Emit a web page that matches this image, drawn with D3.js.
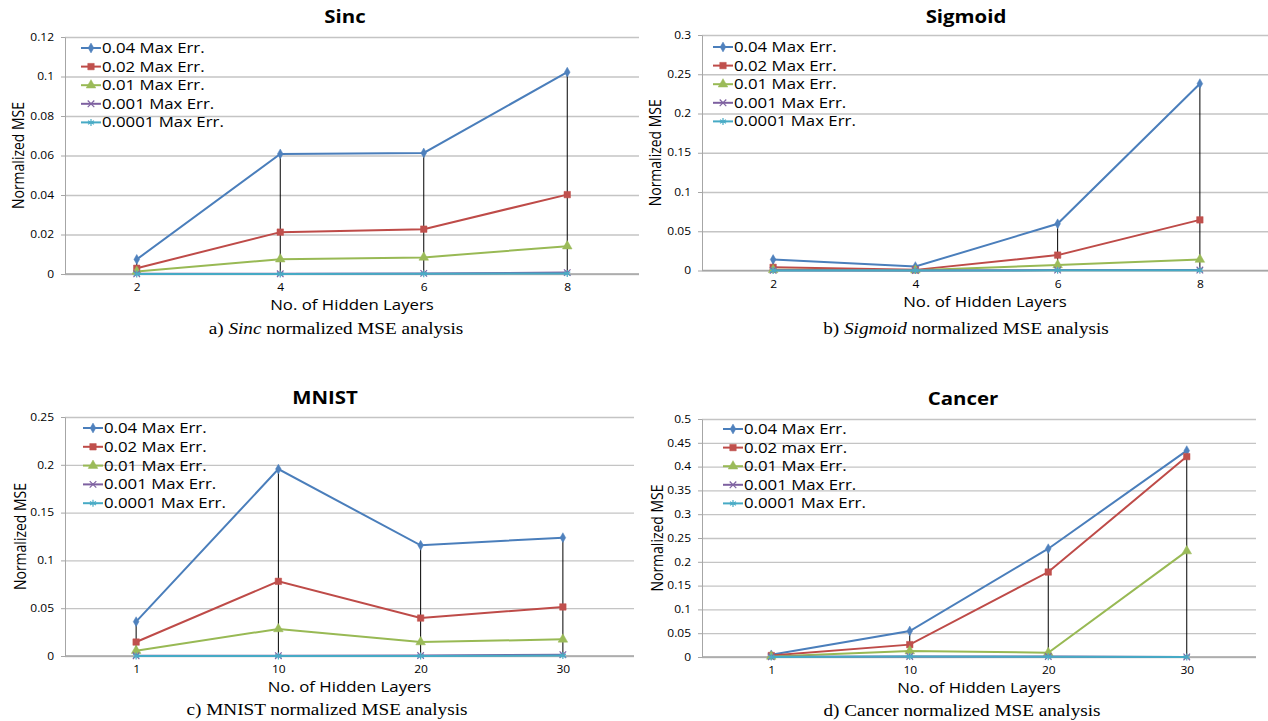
<!DOCTYPE html>
<html>
<head>
<meta charset="utf-8">
<script src="https://cdn.jsdelivr.net/npm/d3@7"></script>
<style>
  body { margin: 0; background: #fff; }
  text { font-family: "Open Sans", sans-serif; fill: #000; }
  .cap { font-family: "Liberation Serif", "Times New Roman", serif; }
</style>
</head>
<body>
<svg id="chart" width="1268" height="721"></svg>
<script>
// legend labels (cancer chart has the lowercase "max")
var seriesNames = ["0.04 Max Err.", "0.02 Max Err.", "0.01 Max Err.", "0.001 Max Err.", "0.0001 Max Err."];
var cancerNames = ["0.04 Max Err.", "0.02 max Err.", "0.01 Max Err.", "0.001 Max Err.", "0.0001 Max Err."];

// Sinc
var sincLayers = ["2", "4", "6", "8"];
var sinc004 = [0.0074, 0.0608, 0.0613, 0.1022];
var sinc002 = [0.0029, 0.0212, 0.0227, 0.0402];
var sinc001 = [0.0013, 0.0075, 0.0084, 0.0141];
var sinc0001 = [0.0001, 0.0001, 0.0003, 0.0007];
var sinc00001 = [0, 0, 0.0001, 0.0003];
var sincTicks = [0, 0.02, 0.04, 0.06, 0.08, 0.1, 0.12];

// Sigmoid
var sigLayers = ["2", "4", "6", "8"];
var sig004 = [0.014, 0.005, 0.0595, 0.238];
var sig002 = [0.004, 0.0008, 0.0196, 0.0645];
var sig001 = [0.0008, 0.0004, 0.0071, 0.014];
var sig0001 = [0.0003, 0.0001, 0.0005, 0.0006];
var sig00001 = [0.0001, 0, 0.0002, 0.0002];
var sigTicks = [0, 0.05, 0.1, 0.15, 0.2, 0.25, 0.3];

// MNIST
var mnistLayers = ["1", "10", "20", "30"];
var mnist004 = [0.0359, 0.1955, 0.1158, 0.1238];
var mnist002 = [0.0146, 0.0781, 0.0397, 0.0513];
var mnist001 = [0.0056, 0.0283, 0.0146, 0.0174];
var mnist0001 = [0.0002, 0.0003, 0.0005, 0.0014];
var mnist00001 = [0, 0.0001, 0.0001, 0.0004];
var mnistTicks = [0, 0.05, 0.1, 0.15, 0.2, 0.25];

// Cancer
var cancerLayers = ["1", "10", "20", "30"];
var cancer004 = [0.0045, 0.0546, 0.2275, 0.4335];
var cancer002 = [0.003, 0.026, 0.1785, 0.421];
var cancer001 = [0.0012, 0.0125, 0.009, 0.2225];
var cancer0001 = [0.0004, 0.0012, 0.001, 0.0001];
var cancer00001 = [0.0002, 0.0008, 0.0006, 0];
var cancerTicks = [0, 0.05, 0.1, 0.15, 0.2, 0.25, 0.3, 0.35, 0.4, 0.45, 0.5];

// excel-ish styling per series
var lineColors = ["#4a7ebb", "#be4b48", "#98b954", "#7d60a0", "#46aac5"];
var markColors = ["#4f81bd", "#c0504d", "#9bbb59", "#8064a2", "#4bacc6"];
var markTypes = [d3.symbolDiamond, d3.symbolSquare, d3.symbolTriangle, d3.symbolX, d3.symbolAsterisk];
var markSizes = [28, 42, 40, 30, 34];

var SX = 1.2; // source picture is stretched sideways a bit

var svg = d3.select("#chart");

function stretched(sel, x, y) {
  return sel.attr("transform", "translate(" + x + "," + y + ") scale(" + SX + ",1)");
}

function drawPanel(p) {
  var g = svg.append("g");
  var plotRight = Math.min(p.right, 1268);

  var x = d3.scalePoint().domain(p.cats).range([p.left, p.right]).padding(0.5);
  var y = d3.scaleLinear().domain([0, p.yMax]).range([p.bottom, p.top]);

  // gridlines
  g.append("g")
    .attr("transform", "translate(" + p.left + ",0)")
    .call(d3.axisLeft(y).tickValues(p.ticks).tickSize(-(plotRight - p.left)).tickFormat(""))
    .call(a => a.select(".domain").remove())
    .selectAll("line")
    .attr("stroke", "#c4c4c4")
    .attr("stroke-width", 1.3);

  // y axis
  var ya = g.append("g")
    .attr("transform", "translate(" + p.left + ",0)")
    .call(d3.axisLeft(y).tickValues(p.ticks).tickSize(4).tickSizeOuter(0).tickPadding(7).tickFormat(d3.format("~g")));
  ya.select(".domain").attr("stroke", "#a6a6a6");
  ya.selectAll(".tick line").attr("stroke", "#a6a6a6");
  ya.selectAll(".tick text")
    .attr("font-family", "Open Sans")
    .attr("font-size", 10)
    .attr("fill", "#333")
    .attr("transform", function () {
      var tx = +this.getAttribute("x");
      this.setAttribute("x", 0);
      return "translate(" + tx + ",0) scale(" + SX + ",1)";
    });

  // bottom axis line
  g.append("line")
    .attr("x1", p.left).attr("x2", plotRight)
    .attr("y1", y(0)).attr("y2", y(0))
    .attr("stroke", "#a6a6a6").attr("stroke-width", 1.3);

  var xa = g.append("g")
    .attr("transform", "translate(0," + y(0) + ")")
    .call(d3.axisBottom(x).tickSize(0).tickPadding(10));
  xa.select(".domain").remove();
  xa.selectAll(".tick text")
    .attr("font-family", "Open Sans")
    .attr("font-size", 10)
    .attr("fill", "#333")
    .attr("transform", "scale(" + SX + ",1)");

  // high-low lines at every category
  var hilo = p.cats.map((c, i) => {
    var vals = p.series.map(s => s[i]);
    return { c: c, hi: d3.max(vals), lo: d3.min(vals) };
  });
  g.selectAll(".hilo")
    .data(hilo)
    .enter()
    .append("line")
    .attr("x1", d => x(d.c)).attr("x2", d => x(d.c))
    .attr("y1", d => y(d.hi)).attr("y2", d => y(d.lo))
    .attr("stroke", "#000").attr("stroke-width", 1);

  var line = d3.line()
    .x((d, i) => x(p.cats[i]))
    .y(d => y(d));

  p.series.forEach((s, k) => {
    g.append("path")
      .attr("d", line(s))
      .attr("fill", "none")
      .attr("stroke", lineColors[k])
      .attr("stroke-width", 2);

    g.selectAll(".m" + k)
      .data(s)
      .enter()
      .append("path")
      .attr("transform", (d, i) => "translate(" + x(p.cats[i]) + "," + y(d) + ")")
      .attr("d", d3.symbol().type(markTypes[k]).size(markSizes[k]))
      .attr("fill", k < 3 ? markColors[k] : "none")
      .attr("stroke", markColors[k])
      .attr("stroke-width", k < 3 ? 0.5 : 1.2);
  });

  // legend
  p.names.forEach((n, k) => {
    var ly = p.legendY + k * p.legendStep;
    g.append("line")
      .attr("x1", p.legendX).attr("x2", p.legendX + 20)
      .attr("y1", ly).attr("y2", ly)
      .attr("stroke", lineColors[k]).attr("stroke-width", 2);
    g.append("path")
      .attr("transform", "translate(" + (p.legendX + 10) + "," + ly + ")")
      .attr("d", d3.symbol().type(markTypes[k]).size(markSizes[k]))
      .attr("fill", k < 3 ? markColors[k] : "none")
      .attr("stroke", markColors[k])
      .attr("stroke-width", k < 3 ? 0.5 : 1.2);
    g.append("text")
      .call(stretched, p.legendX + 21, ly)
      .attr("dy", "0.36em")
      .attr("font-size", 14)
      .text(n);
  });

  // title
  g.append("text")
    .call(stretched, p.titleX, p.titleY)
    .attr("text-anchor", "middle")
    .attr("font-size", 17)
    .attr("font-weight", "bold")
    .text(p.title);

  // y label
  g.append("text")
    .attr("transform", "translate(" + p.yLabelX + "," + ((p.top + p.bottom) / 2) + ") scale(" + SX + ",1) rotate(-90)")
    .attr("text-anchor", "middle")
    .attr("dy", "0.36em")
    .attr("font-size", 14)
    .text("Normalized MSE");

  // x title
  g.append("text")
    .call(stretched, (p.left + plotRight) / 2, y(0) + 36)
    .attr("text-anchor", "middle")
    .attr("font-size", 14)
    .text("No. of Hidden Layers");

  // caption underneath
  var cap = g.append("text")
    .attr("class", "cap")
    .call(stretched, p.capX, p.capY)
    .attr("text-anchor", "middle")
    .attr("font-size", 16);
  cap.append("tspan").text(p.capPre);
  if (p.capItalic) cap.append("tspan").attr("font-style", "italic").text(p.capItalic);
  cap.append("tspan").text(p.capPost);
}

drawPanel({
  title: "Sinc", cats: sincLayers, names: seriesNames,
  series: [sinc004, sinc002, sinc001, sinc0001, sinc00001],
  ticks: sincTicks, yMax: 0.12,
  left: 65, right: 639, top: 37, bottom: 274,
  titleX: 345, titleY: 23, yLabelX: 18,
  legendX: 81, legendY: 48, legendStep: 18.6,
  capX: 336, capY: 334, capPre: "a) ", capItalic: "Sinc", capPost: " normalized  MSE analysis"
});

drawPanel({
  title: "Sigmoid", cats: sigLayers, names: seriesNames,
  series: [sig004, sig002, sig001, sig0001, sig00001],
  ticks: sigTicks, yMax: 0.3,
  left: 702, right: 1271, top: 35, bottom: 270.5,
  titleX: 966, titleY: 23, yLabelX: 655,
  legendX: 713, legendY: 47, legendStep: 18.6,
  capX: 966, capY: 334, capPre: "b) ", capItalic: "Sigmoid", capPost: " normalized MSE analysis"
});

drawPanel({
  title: "MNIST", cats: mnistLayers, names: seriesNames,
  series: [mnist004, mnist002, mnist001, mnist0001, mnist00001],
  ticks: mnistTicks, yMax: 0.25,
  left: 65, right: 634, top: 417, bottom: 656,
  titleX: 325, titleY: 404, yLabelX: 20,
  legendX: 83, legendY: 428, legendStep: 18.8,
  capX: 327, capY: 715, capPre: "c) MNIST normalized  MSE analysis", capItalic: "", capPost: ""
});

drawPanel({
  title: "Cancer", cats: cancerLayers, names: cancerNames,
  series: [cancer004, cancer002, cancer001, cancer0001, cancer00001],
  ticks: cancerTicks, yMax: 0.5,
  left: 702, right: 1256, top: 419, bottom: 657,
  titleX: 963, titleY: 405, yLabelX: 657,
  legendX: 723, legendY: 429, legendStep: 18.6,
  capX: 962, capY: 716, capPre: "d) Cancer normalized  MSE analysis", capItalic: "", capPost: ""
});
</script>
</body>
</html>
